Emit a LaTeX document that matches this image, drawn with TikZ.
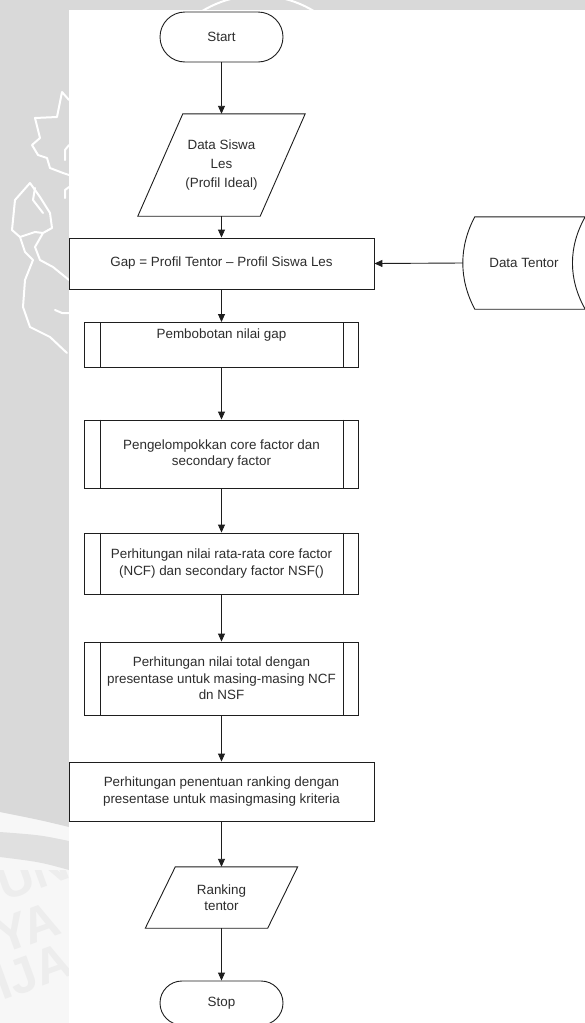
\documentclass[tikz,border=0pt]{standalone}
\usepackage{fontspec}
\setmainfont{Liberation Sans}
\usetikzlibrary{arrows.meta,calc}
\definecolor{pagegray}{RGB}{217,217,217}
\definecolor{bandgray}{RGB}{224,224,224}
\definecolor{palegray}{RGB}{247,247,247}
\definecolor{lettergray}{RGB}{237,237,237}
\definecolor{ink}{RGB}{30,30,30}
\definecolor{txt}{RGB}{45,45,45}
\begin{document}
\begin{tikzpicture}[x=1pt,y=-1pt,
  every node/.style={font=\fontsize{13.4}{16.5}\selectfont, text=txt, align=center, inner sep=0pt},
  flowline/.style={draw=ink, line width=0.9pt},
  arrow/.style={flowline, -{Triangle[length=8pt,width=7pt]}},
  terminal/.style={draw=ink, line width=0.9pt, rectangle, minimum width=123pt},
  procbox/.style={draw=ink, line width=0.9pt, rectangle, minimum width=305pt},
  subbox/.style={draw=ink, line width=0.9pt, rectangle, minimum width=274pt},
  iobox/.style={rectangle, draw=none},
  emblem/.style={draw=white, line width=2pt, line join=round, line cap=round},
  wmletter/.style={text=lettergray, font=\bfseries\fontsize{50}{50}\selectfont, anchor=base west, rotate=20},
]
\useasboundingbox (0,0) rectangle (585,1023);
\clip (0,0) rectangle (585,1023);

% ---- background with faint emblem ----
\fill[palegray] (0,0) rectangle (585,1023);
\fill[pagegray] (0,0) -- (585,0) -- (585,10) -- (69,10) -- (69,827) .. controls (40,820) .. (0,812) -- cycle;
\fill[bandgray] (0,832) .. controls (40,835) .. (69,841) -- (69,870) .. controls (40,862) .. (0,857) -- cycle;
\begin{scope}
  \clip (0,870) rectangle (69,1023);
  \node[wmletter] (wmA) at (4,902) {UN};
  \node[wmletter] (wmB) at (2,955) {YA};
  \node[wmletter] (wmC) at (2,1001) {IJA};
\end{scope}
% emblem ring, leaf and torch outlines
\draw[emblem] (258,103.5) circle (108);
\draw[emblem] (69,100) -- (62,92) -- (57,117) -- (35,118) -- (40,138) -- (32,145) -- (38,155)
  -- (47,158) -- (50,168) -- (63,173) -- (69,175);
\draw[emblem] (69,145) -- (65,150) -- (65,160);
\draw[emblem] (69,187) -- (65,190) -- (65,198);
\draw[emblem] (30,183) -- (15,200) -- (12,230) -- (20,237) -- (25,252) -- (33,260) -- (25,280)
  -- (23,307) -- (30,327) -- (50,337) -- (67,353);
\draw[emblem] (30,183) -- (40,197) -- (50,213) -- (52,228) -- (43,233) -- (35,247) -- (40,260)
  -- (53,267) -- (69,280);
\draw[emblem] (35,188) -- (33,200) -- (43,213);
\draw[emblem] (20,237) -- (35,232) -- (43,233);
\draw[emblem] (55,310) -- (62,313) -- (69,313);

% white page
\fill[white] (69,10) rectangle (585,1023);

% ---- flowchart ----
% terminals
\node[terminal, minimum height=50pt, rounded corners=25pt] (start) at (221.5,37) {Start};
\node[terminal, minimum height=44pt, rounded corners=22pt] (stop) at (221.5,1003) {Stop};

% input: student data
\node[iobox, minimum width=122pt, minimum height=102pt, font=\fontsize{13.4}{19}\selectfont] (siswa) at (221.5,165) {Data Siswa\\Les\\(Profil Ideal)};
\draw[flowline] ($(siswa.north west)+(22.5,0)$) -- ($(siswa.north east)+(22.5,0)$)
  -- ($(siswa.south east)+(-22.5,0)$) -- ($(siswa.south west)+(-22.5,0)$) -- cycle;

% gap calculation
\node[procbox, minimum height=51pt] (gap) at (221.5,263.5) {Gap = Profil Tentor -- Profil Siswa Les};

% stored data: tutors
\node[iobox, minimum width=122pt, minimum height=92pt] (tentor) at (524,263) {Data Tentor};
\draw[flowline] ($(tentor.north west)+(12,0)$) -- (tentor.north east)
  .. controls ($(tentor.north east)+(-17,30)$) and ($(tentor.south east)+(-17,-30)$) .. (tentor.south east)
  -- ($(tentor.south west)+(12,0)$)
  .. controls ($(tentor.south west)+(-4,-30)$) and ($(tentor.north west)+(-4,30)$) .. ($(tentor.north west)+(12,0)$)
  -- cycle;

% predefined processes
\node[subbox, anchor=north, text height=16.5pt, text depth=28.5pt] (bobot) at (221.5,322) {Pembobotan nilai gap};
\node[subbox, minimum height=68pt] (kelompok) at (221.5,454) {Pengelompokkan core factor dan\\secondary factor};
\node[subbox, minimum height=61pt] (rata) at (221.5,563.5) {Perhitungan nilai rata-rata core factor\\(NCF) dan secondary factor NSF()};
\node[subbox, minimum height=73pt] (total) at (221.5,678.5) {Perhitungan nilai total dengan\\presentase untuk masing-masing NCF\\dn NSF};
\foreach \n in {bobot,kelompok,rata,total}{
  \draw[flowline] ([xshift=16pt]\n.north west) -- ([xshift=16pt]\n.south west);
  \draw[flowline] ([xshift=-16pt]\n.north east) -- ([xshift=-16pt]\n.south east);
}

% ranking
\node[procbox, minimum height=59pt] (rank) at (221.5,791.5) {Perhitungan penentuan ranking dengan\\presentase untuk masingmasing kriteria};

% output: ranking
\node[iobox, minimum width=122pt, minimum height=61pt] (hasil) at (221.5,897.5) {Ranking\\tentor};
\draw[flowline] ($(hasil.north west)+(15,0)$) -- ($(hasil.north east)+(15,0)$)
  -- ($(hasil.south east)+(-15,0)$) -- ($(hasil.south west)+(-15,0)$) -- cycle;

% flow
\draw[arrow] (start) -- (siswa);
\draw[arrow] (siswa) -- (gap);
\draw[arrow] (tentor.west) -- (gap.east);
\draw[arrow] (gap) -- (bobot);
\draw[arrow] (bobot) -- (kelompok);
\draw[arrow] (kelompok) -- (rata);
\draw[arrow] (rata) -- (total);
\draw[arrow] (total) -- (rank);
\draw[arrow] (rank) -- (hasil);
\draw[arrow] (hasil) -- (stop);
\end{tikzpicture}
\end{document}
